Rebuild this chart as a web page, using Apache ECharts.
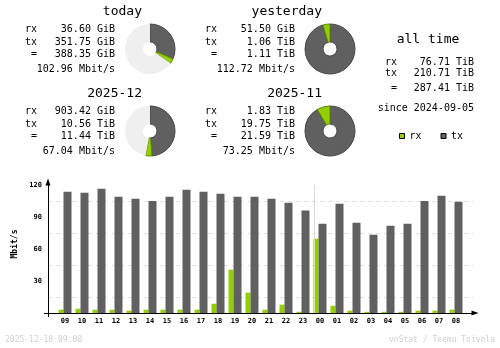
<!DOCTYPE html>
<html><head><meta charset="utf-8">
<script src="https://cdn.jsdelivr.net/npm/echarts@6/dist/echarts.min.js"></script>
<style>html,body{margin:0;padding:0;background:#fff}#c{width:500px;height:348px}</style>
</head><body><div id="c"></div>
<script>
// ---- hourly chart data (Mbit/s) ----
const hours = ['09','10','11','12','13','14','15','16','17','18','19','20','21','22','23','00','01','02','03','04','05','06','07','08'];
const rxRate = [3.1,4.0,3.1,3.1,2.2,3.1,3.1,3.1,3.1,8.7,40.6,19.0,3.1,7.8,1.1,69.6,6.8,2.2,1.1,1.1,1.1,2.2,2.2,3.1];
const txRate = [113.7,112.8,116.5,109.0,107.0,105.0,109.0,115.6,113.7,111.8,109.0,109.0,107.0,103.4,96.0,83.7,102.4,84.6,73.4,81.8,83.7,105.0,110.0,104.3];
const yTicks = [30,60,90,120];
const dayBoundary = 14.5; // between 23 and 00

// ---- summary blocks ----
const periodTitles = ['today','yesterday','2025-12','2025-11'];
const periodRx = ['36.60 GiB','51.50 GiB','903.42 GiB','1.83 TiB'];
const periodTx = ['351.75 GiB','1.06 TiB','10.56 TiB','19.75 TiB'];
const periodTotal = ['388.35 GiB','1.11 TiB','11.44 TiB','21.59 TiB'];
const periodRate = ['102.96 Mbit/s','112.72 Mbit/s','67.04 Mbit/s','73.25 Mbit/s'];
// pie values in GiB (rest = estimated remainder of the period)
const pieRx = [36.60, 51.50, 903.42, 1873.9];
const pieTx = [351.75, 1085.4, 10813.4, 20224.0];
const pieRest = [730, 0, 10480, 0];

const allTimeLabels = ['rx','tx','='];
const allTimeValues = ['76.71 TiB','210.71 TiB','287.41 TiB'];
const sinceText = 'since 2024-09-05';
const stampText = '2025-12-18 09:00';
const creditText = 'vnStat / Teemu Toivola';

const RX = '#92CF00', TX = '#606060';
const MONO = 'DejaVu Sans Mono';

const blockX = [0,180,0,180], blockY = [0,0,82,82];
const graphics = [];
function txt(x,y,text,opt){
  opt = opt || {};
  graphics.push({type:'text', x:x, y:y, rotation: opt.rot || 0, silent:true,
    style:{text:text, fontFamily:MONO, fontSize: opt.size || 10, fontWeight: opt.weight || 'normal',
      fill: opt.color || '#000', align: opt.align || 'left', verticalAlign:'middle'}});
}
for (let k=0;k<4;k++){
  const dx = blockX[k], dy = blockY[k];
  txt(142+dx, 11.5+dy, periodTitles[k], {size:13, align:'right'});
  txt(25+dx, 29.5+dy, 'rx');
  txt(25+dx, 42+dy, 'tx');
  txt(31+dx, 54.8+dy, '=');
  txt(115+dx, 29.5+dy, periodRx[k], {align:'right'});
  txt(115+dx, 42+dy, periodTx[k], {align:'right'});
  txt(115+dx, 54.8+dy, periodTotal[k], {align:'right'});
  txt(115+dx, 69.6+dy, periodRate[k], {align:'right'});
}
txt(428, 39.5, 'all time', {size:13, align:'center'});
const atY = [62.3, 73.5, 88.3];
for (let i=0;i<3;i++){
  txt(i===2 ? 391 : 385, atY[i], allTimeLabels[i]);
  txt(474, atY[i], allTimeValues[i], {align:'right'});
}
txt(474, 108.3, sinceText, {align:'right'});
txt(5, 340, stampText, {size:8, color:'#d0d0d0'});
txt(495, 340, creditText, {size:8, color:'#d0d0d0', align:'right'});
txt(15, 244, 'Mbit/s', {size:8, weight:'bold', align:'center', rot:Math.PI/2});

const pieCenters = [[150,49],[330,49],[150,131],[330,131]];
const pieSeries = pieCenters.map((c,k)=>({
  type:'pie', center:c, radius:[7,25], startAngle:90, clockwise:true,
  silent:true, label:{show:false}, labelLine:{show:false}, emphasis:{disabled:true},
  data:[
    {name:'tx pie', value:pieTx[k], itemStyle:{color:TX, borderColor:'#464646', borderWidth:1}},
    {name:'rx pie', value:pieRx[k], itemStyle:{color:RX, borderColor:'#5f8a00', borderWidth:1}},
    {name:'rest', value:pieRest[k], itemStyle:{color:'#efefef', borderWidth:0}}
  ]
}));

const chart = echarts.init(document.getElementById('c'), null, {renderer:'canvas'});
chart.setOption({
  animation:false,
  backgroundColor:'#fff',
  grid:{left:48, top:185, width:425, height:128},
  legend:{data:['rx','tx'], left:399, top:131, padding:0, icon:'rect', itemWidth:5, itemHeight:5,
    itemGap:19, selectedMode:false, itemStyle:{borderColor:'#000', borderWidth:1},
    textStyle:{fontFamily:MONO, fontSize:10, color:'#000'}},
  xAxis:{type:'value', min:-1, max:24, interval:1,
    axisLine:{show:true, onZero:false, lineStyle:{color:'#000', width:1}, symbol:['none','triangle'], symbolSize:[5,7], symbolOffset:[0,2]},
    axisTick:{show:true, customValues:[-1], length:4, lineStyle:{color:'#000'}},
    axisLabel:{customValues: hours.map((h,i)=>i), formatter:v=>hours[Math.round(v)] || '', margin:5,
      fontFamily:MONO, fontSize:7, fontWeight:'bold', color:'#000'},
    splitLine:{show:false}},
  yAxis:{type:'value', min:0, max:120, interval:30,
    axisLine:{show:true, onZero:false, lineStyle:{color:'#000', width:1}, symbol:['none','triangle'], symbolSize:[5,7], symbolOffset:[0,3]},
    axisTick:{show:true, customValues:[0], length:4, lineStyle:{color:'#000'}},
    axisLabel:{customValues:yTicks, margin:6, fontFamily:MONO, fontSize:7, fontWeight:'bold', color:'#000'},
    splitLine:{show:true, lineStyle:{color:'#b0b0b0', type:[4,4]}},
    minorTick:{show:false, splitNumber:2},
    minorSplitLine:{show:true, lineStyle:{color:'#e0e0e0', type:[4,4]}}},
  series:[
    {type:'bar', name:'rx', data:rxRate.map((v,i)=>[i,v]), barWidth:5, barGap:'0%', itemStyle:{color:RX}, silent:true},
    {type:'bar', name:'tx', data:txRate.map((v,i)=>[i,v]), barWidth:8, barGap:'0%', itemStyle:{color:TX}, silent:true,
      markLine:{silent:true, symbol:'none', label:{show:false}, lineStyle:{color:'#d8d8d8', type:'solid', width:1},
        data:[{xAxis:dayBoundary}]}}
  ].concat(pieSeries),
  graphic:graphics
});
</script></body></html>
